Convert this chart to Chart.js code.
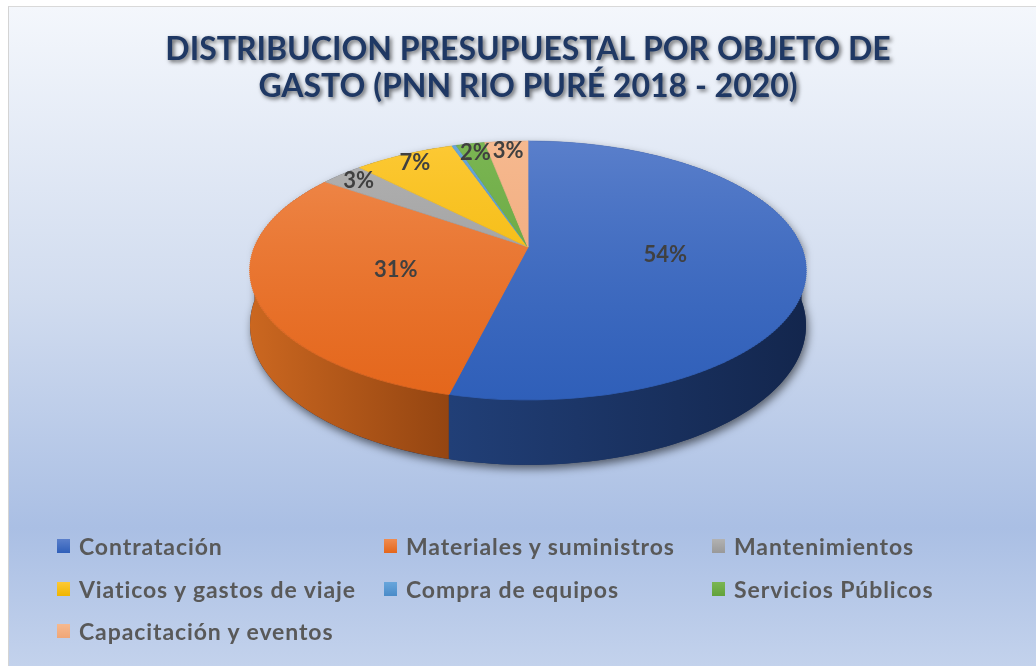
<!DOCTYPE html>
<html lang="es">
<head>
<meta charset="utf-8">
<title>Distribución presupuestal</title>
<script src="https://cdn.jsdelivr.net/npm/chart.js@4.4.1/dist/chart.umd.min.js"></script>
<style>
  html, body { margin: 0; padding: 0; background: #fff; }
  #marco { position: relative; width: 1036px; height: 666px; overflow: hidden; background: #fff; }
  #fondo {
    position: absolute; left: 8px; top: 6px; right: 0; bottom: 0;
    border-left: 1px solid #d4d4d4; border-top: 1px solid #d9d9d9;
    background: linear-gradient(to bottom, #f4f7fc 0%, #d1dcef 44%, #aabfe4 79%, #c3d2ec 100%);
  }
  #grafico { position: absolute; left: 0; top: 0; }
  #leyenda {
    position: absolute; left: 57px; top: 525px;
    display: grid; grid-template-columns: 327px 328px auto; grid-auto-rows: 42.5px;
    font: bold 23px Lato, sans-serif; letter-spacing: 0.9px; color: #595959;
  }
  #leyenda div { display: flex; align-items: center; white-space: nowrap; }
  #leyenda .caja { width: 13px; height: 14px; margin-right: 9px; flex: none; }
</style>
</head>
<body>
<div id="marco">
  <div id="fondo"></div>
  <canvas id="grafico" width="1036" height="666"></canvas>
  <div id="leyenda"></div>
</div>
<script>
const categorias = [
  'Contratación',
  'Materiales y suministros',
  'Mantenimientos',
  'Viaticos y gastos de viaje',
  'Compra de equipos',
  'Servicios Públicos',
  'Capacitación y eventos'
];
const porcentajes = [54, 31, 3, 7, 0.3, 2, 3];
const titulo = ['DISTRIBUCION PRESUPUESTAL POR OBJETO DE', 'GASTO (PNN RIO PURÉ 2018 - 2020)'];

// cara superior (arriba -> abajo) y pared lateral (izquierda -> derecha)
const colorClaro = ['#5a7fcb', '#f08c50', '#b2b2b2', '#fdc935', '#68a6dc', '#7bb653', '#f6b98f'];
const colorOscuro = ['#2f5fb9', '#e4661b', '#999999', '#efb500', '#4a8bc8', '#62a23a', '#efa677'];
const ladoClaro = ['#213f77', '#cb6720', '#777777', '#b98c00', '#2f6597', '#4b7a2c', '#b97b54'];
const ladoOscuro = ['#13264d', '#944511', '#4d4d4d', '#7d5f00', '#1e4468', '#2f4e1b', '#7f5237'];

// proyección en perspectiva del disco (u, v en el círculo unidad)
const vista = { x: 528, y: 247, a: 273.4, b: 125.2, p: 0.181, h: 53.2 };

function proyectar(u, v) {
  const d = 1 - vista.p * v;
  return { x: vista.x + vista.a * u / d, y: vista.y + vista.b * v / d };
}

function vDesdeY(y) {
  const t = (y - vista.y) / vista.b;
  return t / (1 + vista.p * t);
}

function degradado(chart, claro, oscuro) {
  const area = chart.chartArea;
  if (!area) return oscuro;
  const cy = (area.top + area.bottom) / 2;
  const r = Math.min(area.right - area.left, area.bottom - area.top) / 2;
  const g = chart.ctx.createLinearGradient(0, cy - r, 0, cy + r);
  g.addColorStop(0, claro);
  g.addColorStop(1, oscuro);
  return g;
}

const pastel3d = {
  id: 'pastel3d',
  beforeDraw(chart) {
    // sombra del título
    const ctx = chart.ctx;
    ctx.letterSpacing = '0px';
    ctx.shadowColor = 'rgba(0, 0, 0, 0.6)';
    ctx.shadowBlur = 4;
    ctx.shadowOffsetX = 2;
    ctx.shadowOffsetY = 2;
  },
  beforeDatasetsDraw(chart) {
    const ctx = chart.ctx;
    ctx.shadowColor = 'rgba(0, 0, 0, 0)';
    ctx.shadowBlur = 0;
    ctx.shadowOffsetX = 0;
    ctx.shadowOffsetY = 0;
  },
  beforeDatasetDraw(chart, args) {
    const ctx = chart.ctx;
    const meta = args.meta;
    const arcs = meta.data;
    const { x: cx, y: cy, outerRadius: r } = arcs[0];

    const borde = (ang) => proyectar(Math.cos(ang), Math.sin(ang));
    const base = (ang) => {
      const q = borde(ang);
      q.y += vista.h / (1 - vista.p * Math.sin(ang));
      return q;
    };

    // sombra del cilindro
    ctx.save();
    ctx.shadowColor = 'rgba(0, 0, 0, 0.55)';
    ctx.shadowBlur = 9;
    ctx.shadowOffsetX = 2;
    ctx.shadowOffsetY = 4;
    ctx.fillStyle = '#1a2d55';
    ctx.beginPath();
    for (let k = 0; k <= 120; k++) {
      const q = base(Math.PI * k / 120);
      if (k) ctx.lineTo(q.x, q.y); else ctx.moveTo(q.x, q.y);
    }
    for (let k = 0; k <= 120; k++) {
      const q = borde(Math.PI + Math.PI * k / 120);
      ctx.lineTo(q.x, q.y);
    }
    ctx.closePath();
    ctx.fill();
    ctx.restore();

    // paredes laterales visibles (mitad delantera)
    arcs.forEach((arc, i) => {
      const a = Math.max(arc.startAngle, 0);
      const b = Math.min(arc.endAngle, Math.PI);
      if (b <= a) return;
      const pasos = Math.max(2, Math.ceil((b - a) / 0.02));
      const arriba = [], abajo = [];
      for (let k = 0; k <= pasos; k++) {
        const ang = a + (b - a) * k / pasos;
        arriba.push(borde(ang));
        abajo.push(base(ang));
      }
      const xs = arriba.map(q => q.x);
      const g = ctx.createLinearGradient(Math.min(...xs), 0, Math.max(...xs), 0);
      g.addColorStop(0, ladoClaro[i]);
      g.addColorStop(1, ladoOscuro[i]);
      ctx.beginPath();
      arriba.forEach((q, k) => { if (k) ctx.lineTo(q.x, q.y); else ctx.moveTo(q.x, q.y); });
      abajo.reverse().forEach(q => ctx.lineTo(q.x, q.y));
      ctx.closePath();
      ctx.fillStyle = g;
      ctx.fill();
    });

    // cara superior: el controlador dibuja los sectores en franjas horizontales,
    // cada una con su propia escala para simular la perspectiva
    const yIni = Math.floor(proyectar(0, -1).y) - 2;
    const yFin = Math.ceil(proyectar(0, 1).y) + 2;
    for (let ya = yIni; ya < yFin; ya += 2) {
      const yb = ya + 2;
      const va = vDesdeY(ya), vb = vDesdeY(yb);
      const vm = (va + vb) / 2;
      ctx.save();
      ctx.beginPath();
      ctx.rect(0, ya, chart.width, yb - ya);
      ctx.clip();
      ctx.translate(vista.x, ya);
      ctx.scale(vista.a / ((1 - vista.p * vm) * r), (yb - ya) / ((vb - va) * r));
      ctx.translate(-cx, -(cy + va * r));
      meta.controller.draw();
      ctx.restore();
    }
    return false;
  },
  afterDatasetsDraw(chart) {
    // etiquetas de porcentaje
    const ctx = chart.ctx;
    const arcs = chart.getDatasetMeta(0).data;
    const valores = chart.data.datasets[0].data;
    const total = valores.reduce((s, v) => s + v, 0);
    ctx.save();
    ctx.font = 'bold 22px Lato';
    ctx.fillStyle = '#404040';
    ctx.textAlign = 'center';
    ctx.textBaseline = 'middle';
    arcs.forEach((arc, i) => {
      const pct = Math.round(valores[i] / total * 100);
      if (pct < 1) return;
      const medio = (arc.startAngle + arc.endAngle) / 2;
      const f = pct < 10 ? 0.9 : 0.5;
      const q = proyectar(Math.cos(medio) * f, Math.sin(medio) * f);
      ctx.fillText(pct + '%', q.x, q.y);
    });
    ctx.restore();
  },
  afterUpdate(chart) {
    // leyenda en columnas
    const caja = document.getElementById('leyenda');
    caja.innerHTML = '';
    chart.data.labels.forEach((texto, i) => {
      const item = document.createElement('div');
      const cuadro = document.createElement('span');
      cuadro.className = 'caja';
      cuadro.style.background = `linear-gradient(${colorClaro[i]}, ${colorOscuro[i]})`;
      item.appendChild(cuadro);
      item.appendChild(document.createTextNode(texto));
      caja.appendChild(item);
    });
  }
};

new Chart(document.getElementById('grafico'), {
  type: 'pie',
  data: {
    labels: categorias,
    datasets: [{
      data: porcentajes,
      backgroundColor: (c) => degradado(c.chart, colorClaro[c.dataIndex], colorOscuro[c.dataIndex]),
      borderColor: (c) => degradado(c.chart, colorClaro[c.dataIndex], colorOscuro[c.dataIndex]),
      borderWidth: 1,
      clip: false
    }]
  },
  options: {
    responsive: false,
    animation: false,
    events: [],
    layout: { padding: { top: 18, left: 20, right: 0, bottom: 40 } },
    plugins: {
      legend: { display: false },
      tooltip: { enabled: false },
      title: {
        display: true,
        text: titulo,
        color: '#1f3864',
        font: { family: 'Lato', size: 32, weight: 'bold', lineHeight: 1.16 },
        padding: { top: 13, bottom: 10 }
      }
    }
  },
  plugins: [pastel3d]
});
</script>
</body>
</html>
